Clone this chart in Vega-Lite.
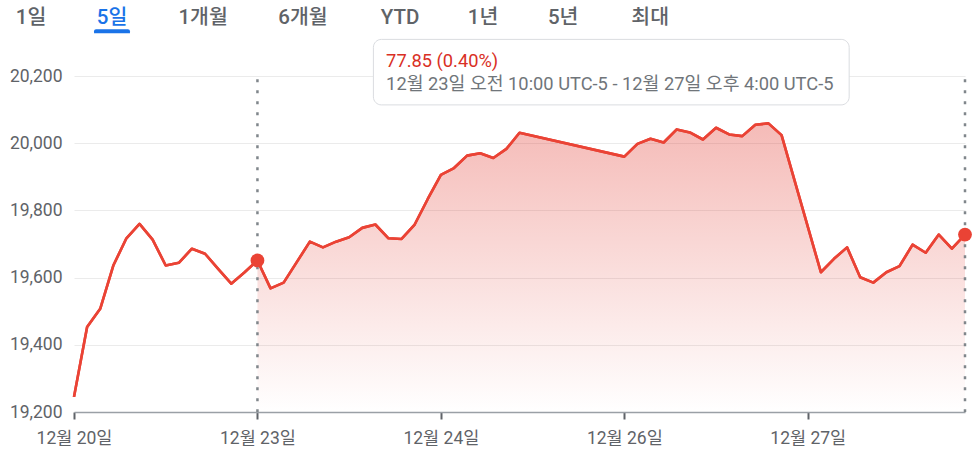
{
  "$schema": "https://vega.github.io/schema/vega-lite/v6.json",
  "width": 891,
  "height": 336,
  "autosize": {"type": "none"},
  "padding": {"left": 74, "top": 76, "right": 15, "bottom": 43},
  "background": "#ffffff",
  "config": {
    "view": {"stroke": null},
    "font": "Roboto, 'Noto Sans CJK KR', sans-serif"
  },
  "datasets": {
    "price": [
      {"i": 0, "v": 19245}, {"i": 1, "v": 19453}, {"i": 2, "v": 19507}, {"i": 3, "v": 19636},
      {"i": 4, "v": 19717}, {"i": 5, "v": 19760}, {"i": 6, "v": 19713}, {"i": 7, "v": 19636},
      {"i": 8, "v": 19644}, {"i": 9, "v": 19686}, {"i": 10, "v": 19671}, {"i": 11, "v": 19626},
      {"i": 12, "v": 19582}, {"i": 13, "v": 19615}, {"i": 14, "v": 19651}, {"i": 15, "v": 19568},
      {"i": 16, "v": 19585}, {"i": 17, "v": 19646}, {"i": 18, "v": 19707}, {"i": 19, "v": 19690},
      {"i": 20, "v": 19707}, {"i": 21, "v": 19720}, {"i": 22, "v": 19748}, {"i": 23, "v": 19758},
      {"i": 24, "v": 19717}, {"i": 25, "v": 19715}, {"i": 26, "v": 19758}, {"i": 27, "v": 19834},
      {"i": 28, "v": 19906}, {"i": 29, "v": 19926}, {"i": 30, "v": 19963}, {"i": 31, "v": 19970},
      {"i": 32, "v": 19956}, {"i": 33, "v": 19983}, {"i": 34, "v": 20031},
      {"i": 42, "v": 19960}, {"i": 43, "v": 19998}, {"i": 44, "v": 20013}, {"i": 45, "v": 20002},
      {"i": 46, "v": 20041}, {"i": 47, "v": 20032}, {"i": 48, "v": 20011}, {"i": 49, "v": 20046},
      {"i": 50, "v": 20026}, {"i": 51, "v": 20021}, {"i": 52, "v": 20055}, {"i": 53, "v": 20059},
      {"i": 54, "v": 20024},
      {"i": 57, "v": 19616}, {"i": 58, "v": 19656}, {"i": 59, "v": 19690}, {"i": 60, "v": 19601},
      {"i": 61, "v": 19585}, {"i": 62, "v": 19616}, {"i": 63, "v": 19634}, {"i": 64, "v": 19698},
      {"i": 65, "v": 19674}, {"i": 66, "v": 19728}, {"i": 67, "v": 19686}, {"i": 68, "v": 19728}
    ],
    "markers": [{"i": 14, "top": 20190, "bottom": 19200}, {"i": 68, "top": 20190, "bottom": 19200}],
    "box": [{"x1": 22.85, "x2": 59.16, "y1": 20309, "y2": 20114}],
    "boxText": [
      {"x": 23.82, "y": 20228, "t": "77.85 (0.40%)", "kind": "change"},
      {"x": 23.82, "y": 20159, "t": "12월 23일 오전 10:00 UTC-5 - 12월 27일 오후 4:00 UTC-5", "kind": "range"}
    ],
    "tabs": [
      {"t": "1일", "x": -3.28, "y": 20356},
      {"t": "5일", "x": 2.9, "y": 20356},
      {"t": "1개월", "x": 9.85, "y": 20356},
      {"t": "6개월", "x": 17.48, "y": 20356},
      {"t": "YTD", "x": 24.89, "y": 20356},
      {"t": "1년", "x": 31.22, "y": 20356},
      {"t": "5년", "x": 37.33, "y": 20356},
      {"t": "최대", "x": 43.97, "y": 20356}
    ],
    "underline": [{"x1": 1.53, "x2": 4.27, "y1": 20339, "y2": 20327}]
  },
  "layer": [
    {
      "data": {"name": "price"},
      "mark": {"type": "line", "color": "#ea4335", "strokeWidth": 2.6, "strokeJoin": "round"},
      "encoding": {
        "x": {
          "field": "i", "type": "quantitative",
          "scale": {"domain": [0, 68], "nice": false, "zero": false},
          "axis": {
            "title": null,
            "values": [0, 14, 28, 42, 56],
            "labelExpr": "datum.value == 0 ? '12월 20일' : datum.value == 14 ? '12월 23일' : datum.value == 28 ? '12월 24일' : datum.value == 42 ? '12월 26일' : '12월 27일'",
            "grid": false,
            "domainColor": "#9aa0a6",
            "domainWidth": 1.5,
            "tickColor": "#5f6368",
            "tickWidth": 2,
            "tickSize": 7,
            "labelFontSize": 17.5,
            "labelColor": "#5f6368",
            "labelPadding": 10,
            "labelFlush": false,
            "labelOverlap": false
          }
        },
        "y": {
          "field": "v", "type": "quantitative",
          "scale": {"domain": [19200, 20200], "nice": false, "zero": false},
          "axis": {
            "title": null,
            "values": [19200, 19400, 19600, 19800, 20000, 20200],
            "labelExpr": "format(datum.value, ',')",
            "domain": false,
            "ticks": false,
            "grid": true,
            "gridColor": "#ebebeb",
            "gridWidth": 1,
            "labelFontSize": 17.5,
            "labelColor": "#5f6368",
            "labelPadding": 12
          }
        }
      }
    },
    {
      "data": {"name": "price"},
      "transform": [{"filter": "datum.i >= 14"}],
      "mark": {
        "type": "area",
        "opacity": 1,
        "fill": {
          "gradient": "linear",
          "x1": 0, "y1": 1, "x2": 0, "y2": 0,
          "stops": [
            {"offset": 0, "color": "rgba(226,60,50,0)"},
            {"offset": 1, "color": "rgba(226,60,50,0.35)"}
          ]
        }
      },
      "encoding": {
        "x": {"field": "i", "type": "quantitative", "axis": {"title": null}},
        "y": {"field": "v", "type": "quantitative", "axis": {"title": null}},
        "y2": {"datum": 19200}
      }
    },
    {
      "data": {"name": "price"},
      "mark": {"type": "line", "color": "#ea4335", "strokeWidth": 2.6, "strokeJoin": "round"},
      "encoding": {
        "x": {"field": "i", "type": "quantitative", "axis": {"title": null}},
        "y": {"field": "v", "type": "quantitative", "axis": {"title": null}}
      }
    },
    {
      "data": {"name": "markers"},
      "mark": {"type": "rule", "color": "#80868b", "strokeWidth": 2.5, "strokeDash": [3, 8]},
      "encoding": {
        "x": {"field": "i", "type": "quantitative", "axis": {"title": null}},
        "y": {"field": "top", "type": "quantitative", "axis": {"title": null}},
        "y2": {"field": "bottom"}
      }
    },
    {
      "data": {"name": "price"},
      "transform": [{"filter": "datum.i == 14 || datum.i == 68"}],
      "mark": {"type": "circle", "color": "#ea4335", "size": 190, "opacity": 1},
      "encoding": {
        "x": {"field": "i", "type": "quantitative", "axis": {"title": null}},
        "y": {"field": "v", "type": "quantitative", "axis": {"title": null}}
      }
    },
    {
      "data": {"name": "box"},
      "mark": {"type": "rect", "fill": "#ffffff", "stroke": "#dadce0", "strokeWidth": 1, "cornerRadius": 8},
      "encoding": {
        "x": {"field": "x1", "type": "quantitative", "axis": {"title": null}},
        "x2": {"field": "x2"},
        "y": {"field": "y1", "type": "quantitative", "axis": {"title": null}},
        "y2": {"field": "y2"}
      }
    },
    {
      "data": {"name": "boxText"},
      "mark": {"type": "text", "align": "left", "baseline": "alphabetic", "fontSize": 18.3},
      "encoding": {
        "x": {"field": "x", "type": "quantitative", "axis": {"title": null}},
        "y": {"field": "y", "type": "quantitative", "axis": {"title": null}},
        "text": {"field": "t"},
        "color": {"condition": {"test": "datum.kind === 'change'", "value": "#d93025"}, "value": "#70757a"}
      }
    },
    {
      "data": {"name": "tabs"},
      "mark": {"type": "text", "align": "center", "baseline": "alphabetic", "fontSize": 20.5, "fontWeight": 500},
      "encoding": {
        "x": {"field": "x", "type": "quantitative", "axis": {"title": null}},
        "y": {"field": "y", "type": "quantitative", "axis": {"title": null}},
        "text": {"field": "t"},
        "color": {"condition": {"test": "datum.t === '5일'", "value": "#1a73e8"}, "value": "#5f6368"}
      }
    },
    {
      "data": {"name": "underline"},
      "mark": {"type": "rect", "color": "#1a73e8", "cornerRadiusTopLeft": 3, "cornerRadiusTopRight": 3},
      "encoding": {
        "x": {"field": "x1", "type": "quantitative", "axis": {"title": null}},
        "x2": {"field": "x2"},
        "y": {"field": "y1", "type": "quantitative", "axis": {"title": null}},
        "y2": {"field": "y2"}
      }
    }
  ]
}
